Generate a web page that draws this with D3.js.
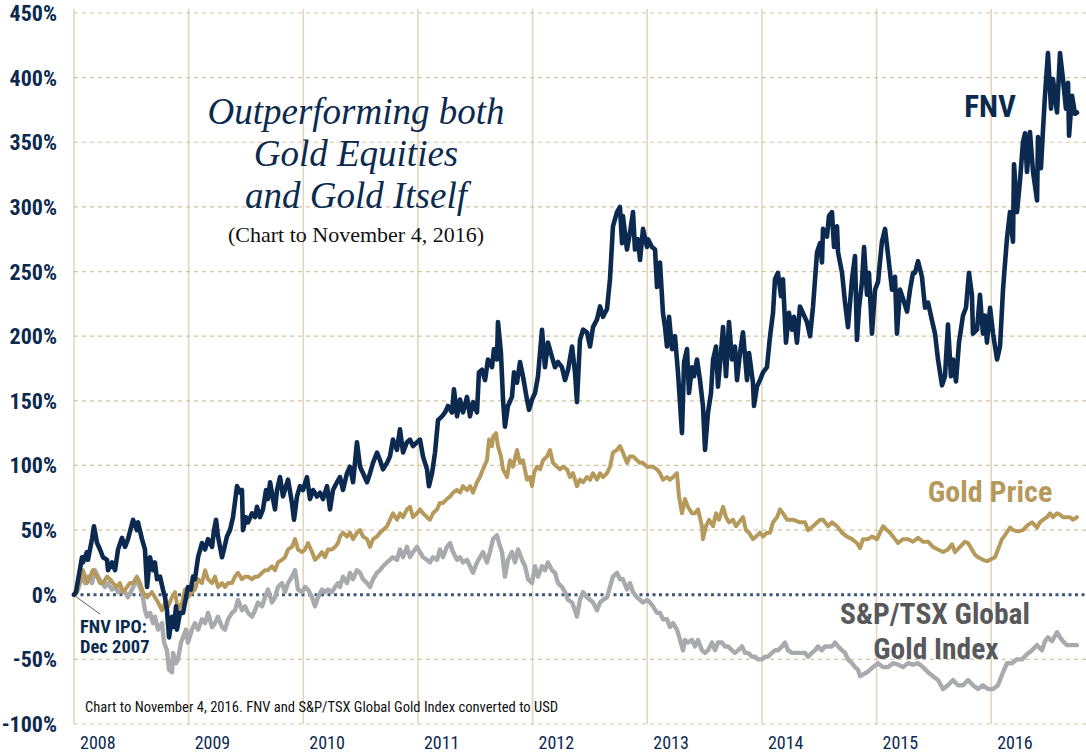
<!DOCTYPE html>
<html><head><meta charset="utf-8">
<script src="https://cdn.jsdelivr.net/npm/d3@7/dist/d3.min.js"></script>
<style>
html,body{margin:0;padding:0;background:#fff;}
svg{display:block;}
.narrow{font-family:"Liberation Sans Narrow","Arial Narrow","Roboto Condensed","Liberation Sans",sans-serif;}
.serif{font-family:"Liberation Serif","DejaVu Serif",serif;}
</style>
</head><body>
<svg id="chart" width="1086" height="753"></svg>
<script>
// ---- Data (decimal year, % return since IPO) ----
const yTicks = [-100,-50,0,50,100,150,200,250,300,350,400,450];
const yearTicks = [2008,2009,2010,2011,2012,2013,2014,2015,2016];
const titleLines = ["Outperforming both","Gold Equities","and Gold Itself"];
const subtitle = "(Chart to November 4, 2016)";
const footnote = "Chart to November 4, 2016. FNV and S&P/TSX Global Gold Index converted to USD";

const fnvData = [
[2008.017,2],[2008.070,29],[2008.078,25],[2008.113,33],[2008.122,27],[2008.157,43],[2008.174,53],[2008.201,40],[2008.227,35],[2008.253,29],[2008.288,27],[2008.297,19],[2008.331,25],[2008.358,19],[2008.384,35],[2008.419,44],[2008.445,37],[2008.471,43],[2008.515,58],[2008.549,50],[2008.558,56],[2008.593,43],[2008.619,35],[2008.637,6],[2008.663,29],[2008.689,19],[2008.706,25],[2008.724,12],[2008.750,14],[2008.776,4],[2008.794,-2],[2008.811,-12],[2008.829,-33],[2008.855,-17],[2008.872,-25],[2008.890,-9],[2008.898,-27],[2008.925,-14],[2008.951,-14],[2008.977,-2],[2008.994,6],
[2009.020,4],[2009.038,14],[2009.055,12],[2009.082,29],[2009.116,40],[2009.143,35],[2009.169,43],[2009.204,37],[2009.221,50],[2009.239,58],[2009.256,45],[2009.291,29],[2009.308,35],[2009.334,45],[2009.361,50],[2009.387,60],[2009.422,84],[2009.448,79],[2009.465,81],[2009.474,50],[2009.500,60],[2009.518,56],[2009.553,63],[2009.579,60],[2009.596,68],[2009.622,60],[2009.648,66],[2009.675,81],[2009.692,74],[2009.710,87],[2009.736,74],[2009.753,66],[2009.771,81],[2009.797,91],[2009.823,76],[2009.849,84],[2009.867,89],[2009.901,71],[2009.919,58],[2009.945,76],[2009.971,84],[2009.997,81],
[2010.032,91],[2010.058,74],[2010.085,81],[2010.119,76],[2010.146,79],[2010.172,74],[2010.207,84],[2010.233,66],[2010.259,81],[2010.294,87],[2010.320,91],[2010.346,81],[2010.381,94],[2010.407,99],[2010.434,87],[2010.468,118],[2010.495,99],[2010.521,94],[2010.556,87],[2010.582,94],[2010.608,102],[2010.643,110],[2010.669,104],[2010.695,97],[2010.730,102],[2010.756,107],[2010.782,120],[2010.817,112],[2010.843,128],[2010.870,110],[2010.904,118],[2010.931,120],[2010.957,115],[2010.992,118],
[2011.018,120],[2011.044,107],[2011.079,97],[2011.096,84],[2011.123,94],[2011.149,110],[2011.175,135],[2011.210,138],[2011.236,141],[2011.262,146],[2011.297,141],[2011.314,159],[2011.341,138],[2011.367,151],[2011.393,141],[2011.428,153],[2011.454,138],[2011.480,149],[2011.515,141],[2011.532,172],[2011.559,174],[2011.585,166],[2011.611,182],[2011.646,176],[2011.663,190],[2011.689,182],[2011.698,211],[2011.724,187],[2011.742,151],[2011.759,130],[2011.785,146],[2011.820,153],[2011.838,172],[2011.864,164],[2011.890,180],[2011.916,169],[2011.951,151],[2011.969,143],[2011.995,151],
[2012.021,156],[2012.047,169],[2012.082,205],[2012.108,176],[2012.134,195],[2012.169,184],[2012.195,176],[2012.222,180],[2012.256,176],[2012.283,166],[2012.309,174],[2012.344,192],[2012.370,172],[2012.387,149],[2012.413,197],[2012.440,205],[2012.474,203],[2012.501,192],[2012.527,207],[2012.562,213],[2012.588,223],[2012.614,215],[2012.649,221],[2012.675,244],[2012.701,285],[2012.736,296],[2012.762,300],[2012.780,272],[2012.788,293],[2012.823,267],[2012.849,280],[2012.876,296],[2012.893,267],[2012.919,275],[2012.937,259],[2012.963,283],[2012.998,269],
[2013.007,275],[2013.041,269],[2013.068,267],[2013.085,238],[2013.111,257],[2013.137,218],[2013.155,207],[2013.172,192],[2013.190,215],[2013.216,190],[2013.242,200],[2013.268,172],[2013.303,125],[2013.321,180],[2013.347,190],[2013.364,156],[2013.390,176],[2013.408,169],[2013.434,182],[2013.460,166],[2013.486,146],[2013.504,112],[2013.530,141],[2013.556,156],[2013.574,182],[2013.600,192],[2013.617,161],[2013.643,187],[2013.661,207],[2013.687,169],[2013.713,211],[2013.739,182],[2013.765,192],[2013.783,166],[2013.809,187],[2013.835,203],[2013.853,184],[2013.870,166],[2013.888,187],[2013.922,164],[2013.931,146],[2013.957,161],[2013.983,166],
[2014.010,172],[2014.044,176],[2014.071,200],[2014.097,218],[2014.114,244],[2014.140,249],[2014.167,231],[2014.184,244],[2014.210,195],[2014.236,218],[2014.263,205],[2014.280,215],[2014.306,195],[2014.332,223],[2014.358,218],[2014.393,211],[2014.420,200],[2014.446,223],[2014.481,265],[2014.507,272],[2014.524,257],[2014.533,283],[2014.568,277],[2014.585,293],[2014.611,296],[2014.629,269],[2014.655,285],[2014.664,265],[2014.699,249],[2014.725,226],[2014.751,207],[2014.786,244],[2014.812,262],[2014.829,197],[2014.847,222],[2014.873,242],[2014.891,269],[2014.917,232],[2014.934,249],[2014.960,202],[2014.987,236],
[2015.013,242],[2015.047,273],[2015.074,283],[2015.100,263],[2015.135,236],[2015.161,246],[2015.178,202],[2015.205,236],[2015.231,229],[2015.266,219],[2015.292,236],[2015.318,249],[2015.335,249],[2015.362,258],[2015.396,246],[2015.423,222],[2015.449,226],[2015.484,212],[2015.510,202],[2015.536,182],[2015.571,162],[2015.597,169],[2015.623,209],[2015.649,169],[2015.667,182],[2015.693,165],[2015.719,195],[2015.754,216],[2015.780,222],[2015.806,249],[2015.832,232],[2015.841,202],[2015.876,205],[2015.902,232],[2015.928,202],[2015.946,216],[2015.963,195],[2015.990,222],
[2016.016,202],[2016.051,182],[2016.077,192],[2016.103,236],[2016.120,256],[2016.138,276],[2016.164,296],[2016.190,273],[2016.199,333],[2016.225,296],[2016.251,320],[2016.277,350],[2016.295,357],[2016.312,327],[2016.338,358],[2016.365,327],[2016.400,305],[2016.408,354],[2016.434,330],[2016.452,360],[2016.469,386],[2016.495,419],[2016.522,376],[2016.539,399],[2016.574,373],[2016.600,419],[2016.626,399],[2016.652,376],[2016.670,396],[2016.679,355],[2016.705,386],[2016.731,372],[2016.748,373]
];

const goldData = [
[2008.026,2],[2008.078,19],[2008.113,9],[2008.140,14],[2008.166,19],[2008.201,14],[2008.227,9],[2008.253,9],[2008.288,14],[2008.314,12],[2008.340,9],[2008.375,6],[2008.401,9],[2008.427,2],[2008.462,6],[2008.488,9],[2008.515,9],[2008.549,14],[2008.576,9],[2008.602,2],[2008.637,-2],[2008.680,2],[2008.706,-2],[2008.733,-6],[2008.768,-12],[2008.794,-6],[2008.820,-9],[2008.855,-2],[2008.881,2],[2008.907,-12],[2008.942,-6],[2008.968,4],[2008.994,-2],
[2009.029,2],[2009.055,4],[2009.082,12],[2009.116,9],[2009.143,19],[2009.169,12],[2009.204,9],[2009.230,14],[2009.256,6],[2009.291,9],[2009.317,6],[2009.343,9],[2009.378,9],[2009.404,14],[2009.430,17],[2009.465,12],[2009.492,14],[2009.518,14],[2009.553,12],[2009.579,14],[2009.605,14],[2009.640,17],[2009.666,19],[2009.692,19],[2009.727,22],[2009.753,19],[2009.779,25],[2009.814,27],[2009.840,29],[2009.867,35],[2009.901,37],[2009.928,43],[2009.954,35],[2009.989,33],
[2010.015,35],[2010.041,40],[2010.076,33],[2010.102,27],[2010.128,29],[2010.163,33],[2010.189,29],[2010.215,35],[2010.250,35],[2010.277,37],[2010.303,40],[2010.320,45],[2010.346,48],[2010.381,45],[2010.407,48],[2010.434,43],[2010.468,48],[2010.495,50],[2010.521,45],[2010.556,43],[2010.582,37],[2010.608,43],[2010.643,45],[2010.669,48],[2010.695,50],[2010.730,53],[2010.756,58],[2010.782,63],[2010.817,58],[2010.843,63],[2010.870,60],[2010.904,66],[2010.931,68],[2010.957,60],[2010.992,63],
[2011.018,66],[2011.044,63],[2011.079,60],[2011.105,58],[2011.131,63],[2011.166,66],[2011.192,71],[2011.218,71],[2011.253,74],[2011.280,76],[2011.306,79],[2011.341,81],[2011.367,79],[2011.393,84],[2011.428,81],[2011.454,84],[2011.480,79],[2011.515,87],[2011.541,91],[2011.567,97],[2011.602,104],[2011.620,120],[2011.646,115],[2011.655,122],[2011.681,125],[2011.698,115],[2011.724,107],[2011.742,97],[2011.777,91],[2011.803,104],[2011.829,99],[2011.864,112],[2011.890,102],[2011.916,104],[2011.951,89],[2011.977,91],[2011.995,84],
[2012.012,94],[2012.038,99],[2012.065,97],[2012.091,104],[2012.126,107],[2012.152,112],[2012.178,102],[2012.213,99],[2012.239,97],[2012.265,99],[2012.300,97],[2012.326,91],[2012.352,94],[2012.387,84],[2012.413,89],[2012.440,87],[2012.474,91],[2012.501,89],[2012.527,94],[2012.562,89],[2012.588,94],[2012.614,91],[2012.649,94],[2012.675,99],[2012.701,110],[2012.736,112],[2012.762,115],[2012.788,110],[2012.823,102],[2012.849,107],[2012.876,107],[2012.911,104],[2012.937,102],[2012.963,102],[2012.998,99],
[2013.024,99],[2013.050,99],[2013.085,97],[2013.111,94],[2013.137,89],[2013.172,91],[2013.198,89],[2013.225,91],[2013.259,94],[2013.277,76],[2013.303,63],[2013.329,74],[2013.355,68],[2013.390,63],[2013.416,63],[2013.443,66],[2013.477,53],[2013.486,43],[2013.512,53],[2013.539,58],[2013.574,53],[2013.600,63],[2013.626,58],[2013.661,68],[2013.687,60],[2013.713,56],[2013.748,58],[2013.774,53],[2013.800,56],[2013.835,60],[2013.861,50],[2013.888,48],[2013.922,43],[2013.949,45],[2013.983,48],
[2014.010,45],[2014.044,48],[2014.071,48],[2014.097,56],[2014.132,60],[2014.158,66],[2014.184,63],[2014.219,58],[2014.271,58],[2014.332,56],[2014.376,56],[2014.402,50],[2014.446,53],[2014.507,58],[2014.533,58],[2014.577,53],[2014.611,56],[2014.655,53],[2014.699,48],[2014.742,45],[2014.786,43],[2014.829,40],[2014.856,36],[2014.882,43],[2014.925,43],[2014.960,45],
[2015.004,43],[2015.030,48],[2015.056,53],[2015.091,50],[2015.117,48],[2015.161,43],[2015.187,40],[2015.231,43],[2015.274,43],[2015.318,41],[2015.362,44],[2015.405,41],[2015.449,41],[2015.492,37],[2015.536,35],[2015.580,33],[2015.623,35],[2015.658,39],[2015.684,33],[2015.728,37],[2015.771,41],[2015.798,40],[2015.832,35],[2015.859,31],[2015.885,29],[2015.928,27],[2015.963,26],[2015.990,27],
[2016.033,29],[2016.059,35],[2016.094,43],[2016.120,46],[2016.164,52],[2016.190,50],[2016.234,49],[2016.277,50],[2016.321,54],[2016.356,56],[2016.400,52],[2016.426,56],[2016.452,58],[2016.487,60],[2016.513,63],[2016.539,60],[2016.574,63],[2016.600,62],[2016.626,60],[2016.661,60],[2016.687,60],[2016.713,58],[2016.748,60]
];

const gdxData = [
[2008.026,2],[2008.070,14],[2008.096,9],[2008.122,14],[2008.157,9],[2008.183,19],[2008.209,14],[2008.244,9],[2008.270,6],[2008.297,9],[2008.331,4],[2008.358,6],[2008.384,2],[2008.419,4],[2008.445,2],[2008.471,-2],[2008.506,4],[2008.532,9],[2008.558,9],[2008.593,2],[2008.619,-12],[2008.637,-17],[2008.663,-14],[2008.689,-22],[2008.706,-17],[2008.733,-27],[2008.768,-22],[2008.785,-37],[2008.811,-43],[2008.829,-58],[2008.855,-60],[2008.864,-45],[2008.890,-53],[2008.907,-50],[2008.933,-37],[2008.951,-33],[2008.977,-27],[2008.994,-37],
[2009.029,-27],[2009.055,-22],[2009.082,-27],[2009.116,-19],[2009.143,-22],[2009.169,-14],[2009.204,-25],[2009.230,-22],[2009.256,-17],[2009.291,-25],[2009.317,-27],[2009.343,-19],[2009.378,-14],[2009.404,-12],[2009.430,-4],[2009.465,-12],[2009.492,-9],[2009.518,-14],[2009.553,-17],[2009.579,-12],[2009.605,-6],[2009.640,-9],[2009.666,-2],[2009.692,4],[2009.727,-6],[2009.753,-2],[2009.779,6],[2009.814,9],[2009.840,2],[2009.867,9],[2009.901,14],[2009.928,19],[2009.954,4],[2009.989,2],
[2010.015,6],[2010.041,4],[2010.076,-2],[2010.102,-9],[2010.128,-2],[2010.163,4],[2010.189,2],[2010.215,4],[2010.250,2],[2010.277,6],[2010.303,9],[2010.320,6],[2010.346,14],[2010.381,9],[2010.407,17],[2010.434,12],[2010.468,19],[2010.495,17],[2010.521,12],[2010.556,9],[2010.582,6],[2010.608,12],[2010.643,17],[2010.669,19],[2010.695,22],[2010.730,25],[2010.756,27],[2010.782,29],[2010.817,27],[2010.843,35],[2010.870,29],[2010.904,37],[2010.931,29],[2010.957,33],[2010.992,37],
[2011.018,33],[2011.044,29],[2011.079,27],[2011.105,25],[2011.131,29],[2011.166,27],[2011.192,35],[2011.218,29],[2011.253,37],[2011.280,40],[2011.306,33],[2011.341,27],[2011.367,29],[2011.393,25],[2011.428,27],[2011.454,22],[2011.480,17],[2011.515,25],[2011.541,29],[2011.567,33],[2011.602,25],[2011.628,33],[2011.655,43],[2011.689,46],[2011.707,40],[2011.733,33],[2011.759,14],[2011.785,27],[2011.820,33],[2011.846,25],[2011.873,35],[2011.908,27],[2011.934,22],[2011.960,12],[2011.995,9],
[2012.021,22],[2012.047,14],[2012.082,22],[2012.108,19],[2012.134,25],[2012.169,19],[2012.195,17],[2012.222,9],[2012.256,6],[2012.283,2],[2012.309,-4],[2012.344,-6],[2012.370,-12],[2012.387,-17],[2012.413,-4],[2012.440,2],[2012.474,-2],[2012.501,-4],[2012.527,-6],[2012.562,-12],[2012.588,-6],[2012.614,-4],[2012.649,-2],[2012.675,6],[2012.701,14],[2012.736,17],[2012.762,12],[2012.788,12],[2012.823,4],[2012.849,9],[2012.876,2],[2012.911,-2],[2012.937,-4],[2012.963,-6],[2012.998,-4],
[2013.024,-6],[2013.050,-9],[2013.085,-14],[2013.111,-14],[2013.137,-19],[2013.172,-19],[2013.198,-25],[2013.225,-22],[2013.259,-27],[2013.286,-35],[2013.312,-43],[2013.329,-35],[2013.355,-37],[2013.390,-35],[2013.416,-40],[2013.443,-35],[2013.477,-43],[2013.504,-45],[2013.530,-43],[2013.565,-37],[2013.591,-43],[2013.617,-37],[2013.652,-37],[2013.678,-40],[2013.704,-40],[2013.739,-43],[2013.765,-45],[2013.792,-43],[2013.826,-40],[2013.853,-45],[2013.879,-45],[2013.914,-48],[2013.940,-48],[2013.966,-50],
[2014.001,-50],[2014.027,-48],[2014.053,-48],[2014.088,-45],[2014.114,-43],[2014.140,-43],[2014.175,-40],[2014.201,-37],[2014.228,-43],[2014.263,-45],[2014.289,-45],[2014.315,-45],[2014.350,-45],[2014.376,-45],[2014.402,-48],[2014.437,-45],[2014.463,-43],[2014.489,-40],[2014.524,-43],[2014.550,-40],[2014.577,-40],[2014.611,-40],[2014.638,-37],[2014.664,-40],[2014.699,-43],[2014.725,-45],[2014.751,-50],[2014.786,-53],[2014.812,-56],[2014.838,-58],[2014.856,-63],[2014.917,-60],[2014.969,-56],
[2015.013,-53],[2015.056,-56],[2015.100,-56],[2015.143,-53],[2015.187,-54],[2015.231,-56],[2015.274,-53],[2015.318,-54],[2015.362,-53],[2015.405,-56],[2015.449,-60],[2015.492,-63],[2015.536,-66],[2015.580,-73],[2015.623,-70],[2015.667,-66],[2015.710,-70],[2015.754,-70],[2015.798,-66],[2015.841,-70],[2015.885,-73],[2015.928,-70],[2015.972,-73],
[2016.016,-73],[2016.059,-70],[2016.103,-60],[2016.138,-53],[2016.181,-53],[2016.225,-50],[2016.269,-50],[2016.312,-46],[2016.356,-43],[2016.400,-39],[2016.443,-43],[2016.469,-36],[2016.495,-33],[2016.530,-36],[2016.574,-29],[2016.600,-33],[2016.626,-36],[2016.661,-39],[2016.687,-39],[2016.713,-39],[2016.748,-39]
];

// ---- Styles ----
const NAVY = "#0c2a4f", GOLD = "#b69a5c", GRAY = "#a9aaae", LABELGRAY = "#58595b";
const GRID = "#d3c59f", VLINE = "#e2d6bc";

const svg = d3.select("#chart");
const W = 1086, H = 753;
svg.append("rect").attr("width",W).attr("height",H).attr("fill","#fff");

const x = d3.scaleLinear().domain([2008, 2017]).range([74, 74 + 9*114.65]);
const y = d3.scaleLinear().domain([-100, 450]).range([724, 13]);
const xRight = 1086;

// vertical year lines
svg.append("g").selectAll("line").data(yearTicks).join("line")
  .attr("x1", d => x(d)).attr("x2", d => x(d))
  .attr("y1", 9).attr("y2", y(-100))
  .attr("stroke", VLINE).attr("stroke-width", 1.6);

// horizontal dashed gridlines
svg.append("g").selectAll("line").data(yTicks.filter(d => d !== 0)).join("line")
  .attr("x1", x(2008)).attr("x2", xRight)
  .attr("y1", d => y(d)).attr("y2", d => y(d))
  .attr("stroke", GRID).attr("stroke-width", 1.2).attr("stroke-dasharray", "4,4");

// y tick labels
svg.append("g").selectAll("text").data(yTicks).join("text")
  .attr("class","narrow")
  .attr("x", 57).attr("y", d => y(d) + 8)
  .attr("text-anchor","end")
  .attr("font-size", 22).attr("font-weight","bold").attr("fill", NAVY)
  .text(d => d + "%");

// year labels
svg.append("g").selectAll("text").data(yearTicks).join("text")
  .attr("class","narrow")
  .attr("x", d => x(d) + 6).attr("y", 749)
  .attr("font-size", 18).attr("fill", NAVY)
  .text(d => d);

// zero line (dotted)
svg.append("line")
  .attr("x1", x(2008)).attr("x2", xRight).attr("y1", y(0)).attr("y2", y(0))
  .attr("stroke", "#3e5677").attr("stroke-width", 3).attr("stroke-dasharray", "3,3.5");

// series lines
const line = d3.line().x(d => x(d[0])).y(d => y(d[1])).curve(d3.curveLinear);
const start = [2008.0, 0];
[[gdxData, GRAY, 4.4], [goldData, GOLD, 4.0], [fnvData, NAVY, 4.6]].forEach(([data, col, w]) => {
  svg.append("path").datum([start].concat(data))
    .attr("d", line).attr("fill","none")
    .attr("stroke", col).attr("stroke-width", w)
    .attr("stroke-linejoin","round").attr("stroke-linecap","round");
});

// title
const title = svg.append("g").attr("class","serif").attr("fill", NAVY)
  .attr("font-style","italic").attr("text-anchor","middle");
[[124, titleLines[0]], [166, titleLines[1]], [208, titleLines[2]]].forEach(([yy, t]) => {
  title.append("text").attr("x", 356).attr("y", yy).attr("font-size", 37).text(t);
});
svg.append("text").attr("class","serif").attr("x", 356).attr("y", 242)
  .attr("text-anchor","middle").attr("font-size", 22).attr("fill","#111")
  .text(subtitle);

// series labels
svg.append("text").attr("class","narrow").attr("x", 990).attr("y", 117)
  .attr("text-anchor","middle").attr("font-size", 31).attr("font-weight","bold").attr("fill", NAVY).text("FNV");
svg.append("text").attr("class","narrow").attr("x", 990).attr("y", 502)
  .attr("text-anchor","middle").attr("font-size", 30).attr("font-weight","bold").attr("fill", GOLD).text("Gold Price");
const sp = svg.append("g").attr("class","narrow").attr("text-anchor","middle")
  .attr("font-size", 29.5).attr("font-weight","bold").attr("fill", LABELGRAY);
sp.append("text").attr("x", 935).attr("y", 624).text("S&P/TSX Global");
sp.append("text").attr("x", 936).attr("y", 659).text("Gold Index");

// IPO annotation
svg.append("line").attr("x1", x(2008) + 2).attr("y1", y(0) + 2).attr("x2", 100).attr("y2", 614)
  .attr("stroke", "#333").attr("stroke-width", 0.8);
const ipo = svg.append("g").attr("class","narrow").attr("font-size", 18.5).attr("font-weight","bold").attr("fill", NAVY);
ipo.append("text").attr("x", 80).attr("y", 633).text("FNV IPO:");
ipo.append("text").attr("x", 80).attr("y", 653).text("Dec 2007");

// footnote
svg.append("text").attr("class","narrow").attr("x", 85).attr("y", 712)
  .attr("font-size", 14.6).attr("fill","#111").text(footnote);
</script>
</body></html>
